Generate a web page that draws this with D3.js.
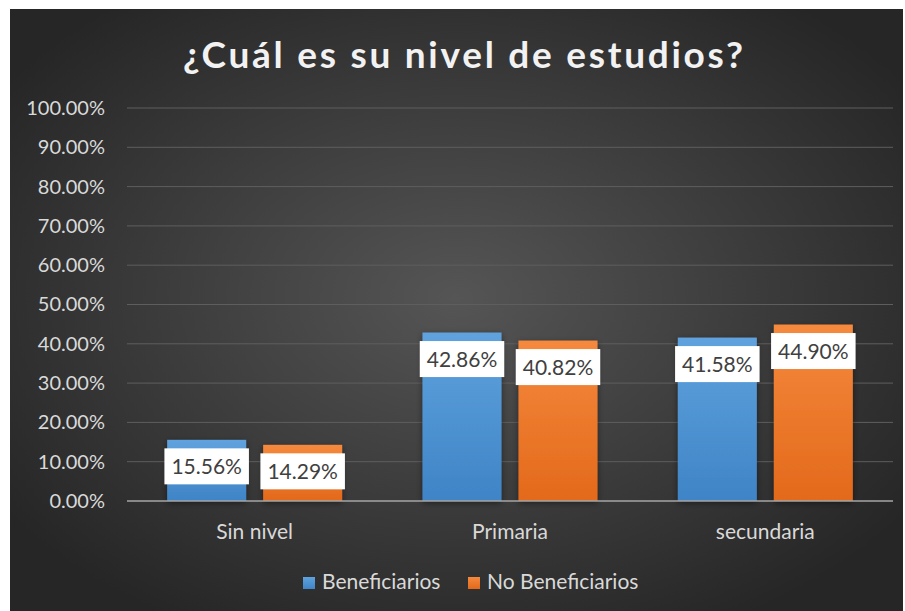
<!DOCTYPE html>
<html>
<head>
<meta charset="utf-8">
<script src="https://cdn.jsdelivr.net/npm/d3@7"></script>
<style>
  html, body { margin: 0; padding: 0; background: #ffffff; }
  svg { display: block; font-family: Lato, "Open Sans", sans-serif; }
</style>
</head>
<body>
<div id="chart"></div>
<script>
// Data
const categories = ["Sin nivel", "Primaria", "secundaria"];
const seriesNames = ["Beneficiarios", "No Beneficiarios"];
const beneficiarios = [0.1556, 0.4286, 0.4158];
const noBeneficiarios = [0.1429, 0.4082, 0.4490];
const yTicks = [0, 0.1, 0.2, 0.3, 0.4, 0.5, 0.6, 0.7, 0.8, 0.9, 1.0];
const titleText = "¿Cuál es su nivel de estudios?";

// We build rows for the grouped bars
const rows = categories.map((c, i) => ({
    category: c,
    values: [
        { series: seriesNames[0], value: beneficiarios[i] },
        { series: seriesNames[1], value: noBeneficiarios[i] }
    ]
}));

const width = 905, height = 611;
const plot = { left: 127, right: 893, top: 108, bottom: 501 };

const svg = d3.select("#chart").append("svg")
    .attr("width", width)
    .attr("height", height);

const defs = svg.append("defs");

// Background radial gradient
const bg = defs.append("radialGradient").attr("id", "bg")
    .attr("cx", "50%").attr("cy", "48%").attr("r", "62%");
bg.append("stop").attr("offset", "0%").attr("stop-color", "#555555");
bg.append("stop").attr("offset", "100%").attr("stop-color", "#262626");

// Bar gradients
const colors = {
    "Beneficiarios": ["#5fa2de", "#3f84c6"],
    "No Beneficiarios": ["#f5893d", "#e3691b"]
};
seriesNames.forEach((s, i) => {
    const g = defs.append("linearGradient").attr("id", "bar" + i)
        .attr("x1", 0).attr("y1", 0).attr("x2", 0).attr("y2", 1);
    g.append("stop").attr("offset", "0%").attr("stop-color", colors[s][0]);
    g.append("stop").attr("offset", "100%").attr("stop-color", colors[s][1]);
});

// Soft shadow for bars
const shadow = defs.append("filter").attr("id", "shadow")
    .attr("x", "-20%").attr("y", "-20%").attr("width", "140%").attr("height", "140%");
shadow.append("feDropShadow")
    .attr("dx", 0).attr("dy", 2).attr("stdDeviation", 3)
    .attr("flood-color", "#000000").attr("flood-opacity", 0.45);

// Chart area background
svg.append("rect")
    .attr("x", 10).attr("y", 9)
    .attr("width", 893).attr("height", 602)
    .attr("fill", "url(#bg)");

// Scales
const x0 = d3.scaleBand()
    .domain(categories)
    .range([plot.left, plot.right]);

const groupWidth = 175;
const x1 = d3.scaleBand()
    .domain(seriesNames)
    .range([(x0.bandwidth() - groupWidth) / 2, (x0.bandwidth() + groupWidth) / 2])
    .paddingInner(0.177);

const y = d3.scaleLinear()
    .domain([0, 1])
    .range([plot.bottom, plot.top]);

// Gridlines
svg.append("g")
    .selectAll("line")
    .data(yTicks.filter(t => t > 0))
    .enter()
    .append("line")
    .attr("x1", plot.left).attr("x2", plot.right)
    .attr("y1", d => y(d)).attr("y2", d => y(d))
    .attr("stroke", "#5e5e5e")
    .attr("stroke-width", 1);

// Y axis labels
const yAxis = svg.append("g")
    .attr("transform", `translate(${plot.left},0)`)
    .call(d3.axisLeft(y).tickValues(yTicks).tickFormat(d3.format(".2%")).tickSize(0).tickPadding(22));
yAxis.select(".domain").remove();
yAxis.selectAll("text")
    .attr("fill", "#d9d9d9")
    .attr("font-size", 20)
    .attr("font-family", "Lato, sans-serif");

// Bars
const groups = svg.append("g")
    .selectAll("g")
    .data(rows)
    .enter()
    .append("g")
    .attr("transform", d => `translate(${x0(d.category)},0)`);

groups.selectAll("rect")
    .data(d => d.values)
    .enter()
    .append("rect")
    .attr("x", d => x1(d.series))
    .attr("y", d => y(d.value))
    .attr("width", x1.bandwidth())
    .attr("height", d => y(0) - y(d.value))
    .attr("fill", d => "url(#bar" + seriesNames.indexOf(d.series) + ")")
    .attr("filter", "url(#shadow)");

// Zero axis line
svg.append("line")
    .attr("x1", plot.left).attr("x2", plot.right)
    .attr("y1", y(0)).attr("y2", y(0))
    .attr("stroke", "#a6a6a6")
    .attr("stroke-width", 1.5);

// Data labels in white boxes
const labels = groups.selectAll(".lbl")
    .data(d => d.values)
    .enter()
    .append("g")
    .attr("class", "lbl");

labels.each(function(d) {
    const g = d3.select(this);
    const cx = x1(d.series) + x1.bandwidth() / 2;
    const top = y(d.value) + 8.5;
    const boxH = 36;
    const txt = g.append("text")
        .attr("x", cx)
        .attr("y", top + boxH / 2 + 7.5)
        .attr("text-anchor", "middle")
        .attr("font-size", 21)
        .attr("fill", "#404040")
        .text(d3.format(".2%")(d.value));
    const w = txt.node().getComputedTextLength() + 14;
    g.insert("rect", "text")
        .attr("x", cx - w / 2)
        .attr("y", top)
        .attr("width", w)
        .attr("height", boxH)
        .attr("fill", "#ffffff");
});

// Category labels
svg.append("g")
    .selectAll("text")
    .data(categories)
    .enter()
    .append("text")
    .attr("x", d => x0(d) + x0.bandwidth() / 2)
    .attr("y", 539)
    .attr("text-anchor", "middle")
    .attr("font-size", 21)
    .attr("fill", "#d9d9d9")
    .text(d => d);

// Title
svg.append("text")
    .attr("x", 183)
    .attr("y", 68)
    .attr("textLength", 560)
    .attr("lengthAdjust", "spacing")
    .attr("font-size", 37)
    .attr("font-weight", "bold")
    .attr("fill", "#f2f2f2")
    .text(titleText);

// Legend
const legendX = [303, 468];
const legend = svg.append("g")
    .selectAll("g")
    .data(seriesNames)
    .enter()
    .append("g")
    .attr("transform", (d, i) => `translate(${legendX[i]},577)`);

legend.append("rect")
    .attr("width", 12).attr("height", 12)
    .attr("fill", (d, i) => "url(#bar" + i + ")");

legend.append("text")
    .attr("x", 19)
    .attr("y", 12)
    .attr("font-size", 21)
    .attr("fill", "#d9d9d9")
    .text(d => d);
</script>
</body>
</html>
